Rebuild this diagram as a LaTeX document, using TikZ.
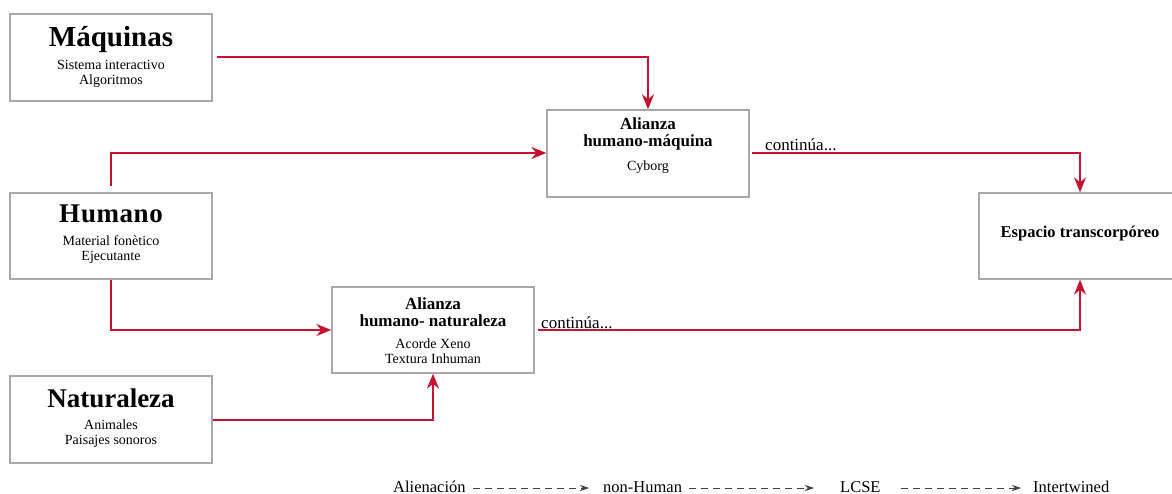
\documentclass[tikz,border=0pt]{standalone}
\usepackage{fontspec}
\setmainfont{Liberation Serif}
\usetikzlibrary{arrows.meta}
\definecolor{lred}{HTML}{C41230}
\definecolor{bgray}{HTML}{A8A8A8}
\begin{document}
\begin{tikzpicture}[x=1pt,y=-1pt,
  box/.style={draw=bgray,line width=1.3pt,rectangle,inner sep=0pt},
  link/.style={draw=lred,line width=1.6pt,-{Stealth[length=15pt,width=12pt]}},
  leg/.style={draw=black!75,line width=0.8pt,dash pattern=on 7pt off 5pt,-{Stealth[length=9pt,width=6pt]}},
  ttl/.style={font=\bfseries\fontsize{27}{30}\selectfont},
  sub/.style={font=\fontsize{14}{15}\selectfont,align=center},
  ali/.style={font=\bfseries\fontsize{17}{17}\selectfont,align=center},
  cont/.style={font=\fontsize{17}{18}\selectfont,anchor=base west,inner sep=0pt},
  legt/.style={font=\fontsize{16.5}{18}\selectfont,anchor=base west,inner sep=0pt}
]
\useasboundingbox (0,0) rectangle (1172,494);
% boxes
\node[box,minimum width=202pt,minimum height=87pt] (maq) at (111,57.5) {};
\node[box,minimum width=202pt,minimum height=86pt] (hum) at (111,236) {};
\node[box,minimum width=202pt,minimum height=87pt] (nat) at (111,419.5) {};
\node[box,minimum width=202pt,minimum height=87pt] (ahm) at (648,153.5) {};
\node[box,minimum width=202pt,minimum height=86pt] (ahn) at (433,330) {};
\node[box,minimum width=202pt,minimum height=86pt] (esp) at (1080,236) {};
% texts
\node[ttl,font=\bfseries\fontsize{29}{30}\selectfont] (maqt) at (111,40) {Máquinas};
\node[sub] (maqs) at (111,74) {Sistema interactivo\\Algoritmos};
\node[ttl] (humt) at (111,214) {H\kern1pt u\kern0.5pt m\kern0.5pt a\kern0.5pt n\kern0.5pt o};
\node[sub] (hums) at (111,249.5) {Material fonètico\\Ejecutante};
\node[ttl] (natt) at (111,398) {Naturaleza};
\node[sub] (nats) at (111,433.5) {Animales\\Paisajes sonoros};
\node[ali] (ahmt) at (648,134) {Alianza\\humano-máquina};
\node[sub] (ahms) at (648,167) {Cyborg};
\node[ali] (ahnt) at (433,312.5) {Alianza\\humano- naturaleza};
\node[sub] (ahns) at (433,351) {Acorde Xeno\\Textura Inhuman};
\node[font=\bfseries\fontsize{16.5}{18}\selectfont] (espt) at (1080,234) {Espacio transcorpóreo};
\node[cont] (c1) at (765,151) {continúa...};
\node[cont] (c2) at (541,328) {continúa...};
% connectors
\coordinate (m0) at (217,57);
\draw[link] (m0) -| (ahm.north);
\coordinate (h0) at (111,186);
\draw[link] (h0) |- ([yshift=0.5pt]ahm.west);
\draw[link] (hum.south) |- (ahn.west);
\draw[link] ([yshift=-0.5pt]nat.east) -| (ahn.south);
\coordinate (e1) at (752,153);
\draw[link] (e1) -| (esp.north);
\coordinate (e2) at (538,330);
\draw[link] (e2) -| (esp.south);
% legend
\node[legt] (l1) at (393,492) {Alienación};
\node[legt] (l2) at (603,492) {non-Human};
\node[legt] (l3) at (840,492) {LCSE};
\node[legt] (l4) at (1033,492) {Intertwined};
\draw[leg] ([xshift=7pt,yshift=4pt]l1.base east) -- ([xshift=-14pt,yshift=4pt]l2.base west);
\draw[leg] ([xshift=7pt,yshift=4pt]l2.base east) -- ([xshift=-26pt,yshift=4pt]l3.base west);
\draw[leg] ([xshift=20pt,yshift=4pt]l3.base east) -- ([xshift=-12pt,yshift=4pt]l4.base west);
\end{tikzpicture}
\end{document}
